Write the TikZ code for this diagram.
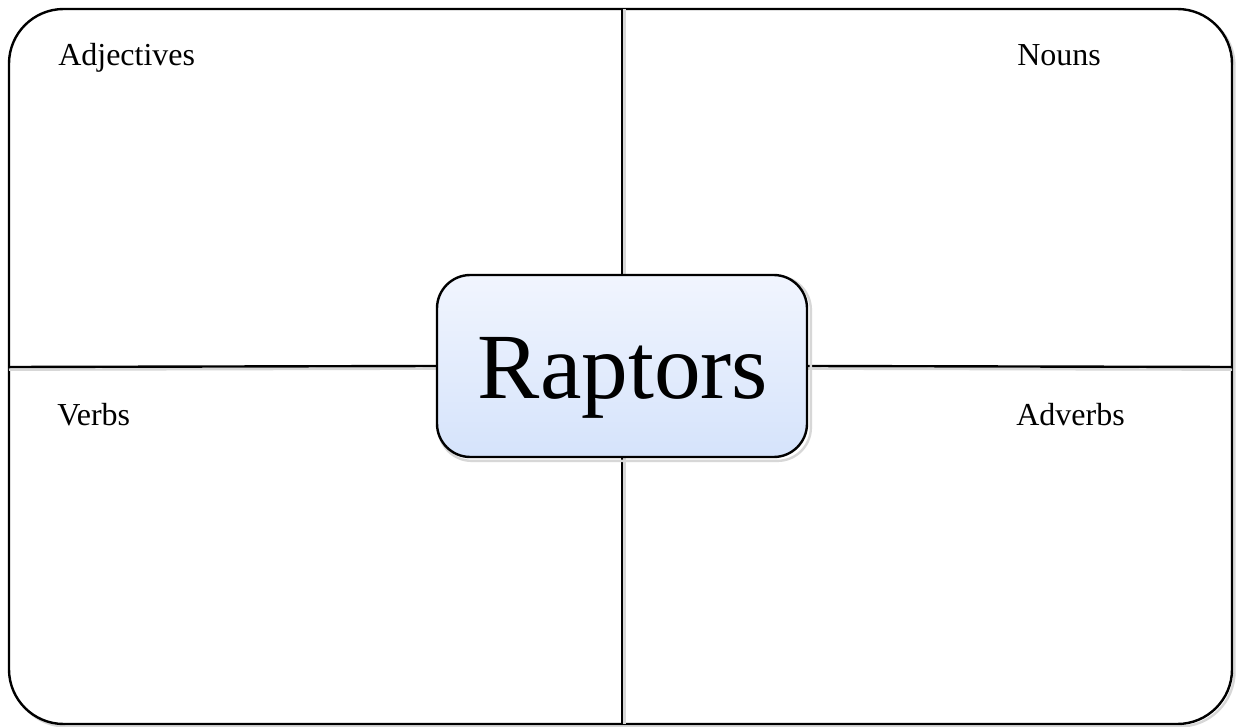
\documentclass[tikz,border=0pt]{standalone}
\usepackage{fontspec}
\setmainfont{Liberation Serif}
\definecolor{boxtop}{RGB}{241,245,254}
\definecolor{boxbot}{RGB}{213,227,251}
\definecolor{shade}{RGB}{215,215,215}
\tikzset{
  frame/.style={line width=1.8pt, draw=black},
  shadowline/.style={line width=1.8pt, draw=shade},
  centerbox/.style={draw=black, line width=1.8pt, rounded corners=25pt,
    top color=boxtop, bottom color=boxbot, minimum width=277.5pt, minimum height=136.5pt,
    inner sep=0pt},
  label/.style={anchor=base west, font=\fontsize{24}{28}\selectfont, inner sep=0pt},
  title/.style={anchor=base, font=\fontsize{70}{82}\selectfont, inner sep=0pt}
}
\begin{document}
\begin{tikzpicture}[x=0.75pt,y=-0.75pt]
\useasboundingbox (0,0) rectangle (1237,727);
% outer frame shadow and frame
\draw[shadowline, rounded corners=41pt] (11.5,11.5) rectangle (1234.5,726.5);
\draw[frame, fill=white, rounded corners=41pt] (9,9) rectangle (1232,724);
% end points of the cross
\coordinate (ntop) at (622,9);
\coordinate (nbot) at (622,724);
\coordinate (wl) at (9,367);
\coordinate (er) at (1232,367);
% box position
\node[centerbox, draw=none, fill=none, top color=white, bottom color=white] (box) at (622,366) {};
% cross lines with faint shadow
\draw[shadowline] ([xshift=2pt]ntop) -- ([xshift=2pt]box.north);
\draw[shadowline] ([xshift=2pt]box.south) -- ([xshift=2pt]nbot);
\draw[shadowline] ([yshift=-2pt]wl) -- ([yshift=-2pt]box.west);
\draw[shadowline] ([yshift=-2pt]box.east) -- ([yshift=-2pt]er);
\draw[frame] (ntop) -- (box.north);
\draw[frame] (box.south) -- (nbot);
\draw[frame] (wl) -- (box.west);
\draw[frame] (box.east) -- (er);
% box shadow and box
\draw[shadowline, rounded corners=25pt] ([shift={(2pt,-2pt)}]box.south west) rectangle ([shift={(2pt,-2pt)}]box.north east);
\node[centerbox] (cbox) at (622,366) {};
\node[title] (t) at (623,398) {Raptors};
% labels
\node[label] (adj) at (58,66) {Adjectives};
\node[label] (nou) at (1017,66) {Nouns};
\node[label] (ver) at (57,425) {Verbs};
\node[label] (adv) at (1016,425) {Adverbs};
\end{tikzpicture}
\end{document}
